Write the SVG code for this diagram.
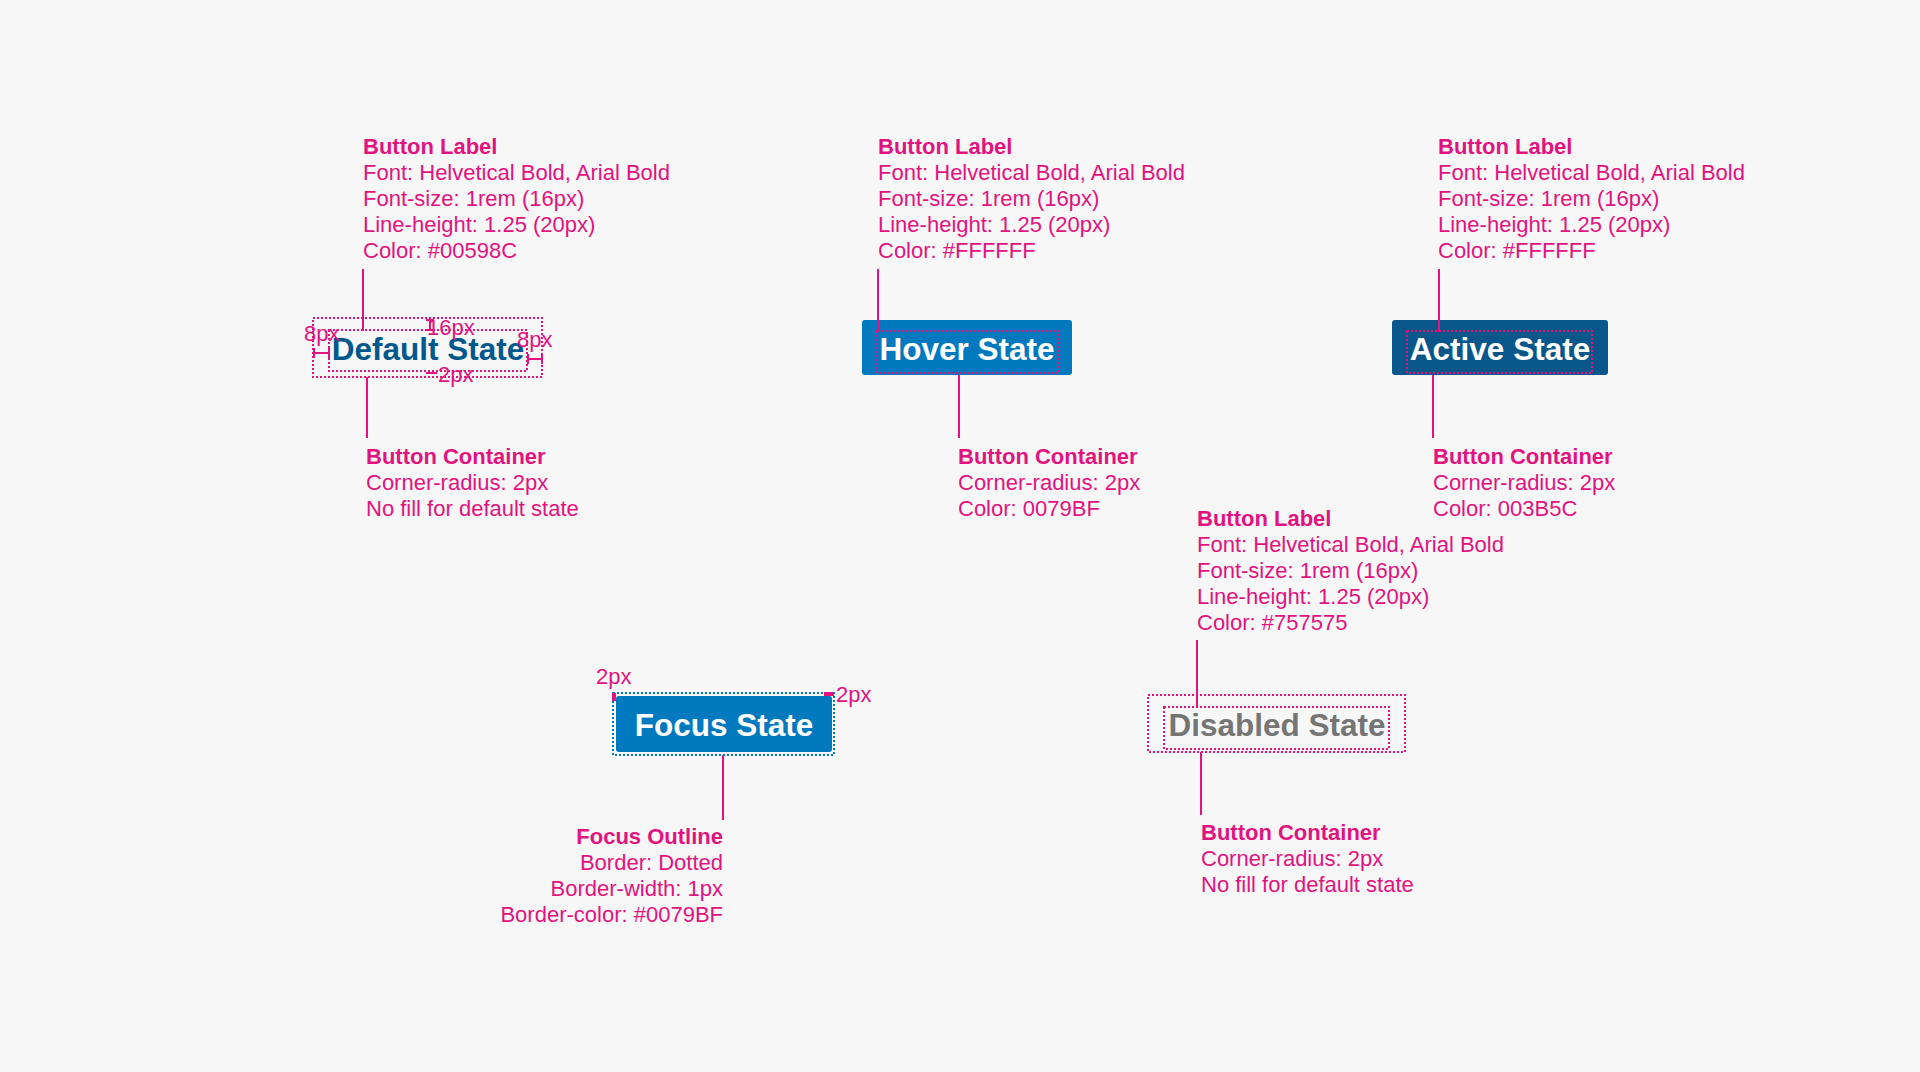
<svg xmlns="http://www.w3.org/2000/svg" width="1920" height="1072" viewBox="0 0 1920 1072">
<style>
.t{font-family:"Liberation Sans",Arial,Helvetica,sans-serif;font-size:22px;fill:#E2137F}
.b{font-weight:bold}
.btn{font-family:"Liberation Sans",Arial,Helvetica,sans-serif;font-size:31.5px;font-weight:bold;text-anchor:middle}
.dot{fill:none;stroke:#E2137F;stroke-width:2;stroke-dasharray:2 2}
.ln{stroke:#E2137F;stroke-width:2;fill:none}
.r{text-anchor:end}
</style>
<rect width="1920" height="1072" fill="#F7F7F7"/>

<g id="default-state">
<rect class="dot" x="313" y="318" width="229" height="59"/>
<rect class="dot" x="329" y="330" width="198" height="41"/>
<text class="btn" x="428" y="360" fill="#00598C">Default State</text>
<text class="t" x="304" y="341">8px</text>
<path class="ln" d="M314 353H329M314 348V358M329 348V358"/>
<text class="t" x="427" y="335">16px</text>
<path class="ln" d="M430 320V330M426 320H434M426 330H434"/>
<text class="t" x="517" y="347">8px</text>
<path class="ln" d="M528 359H542M528 354V364M542 354V364"/>
<path class="ln" d="M426 373H437" stroke-width="3"/>
<text class="t" x="438" y="382">2px</text>
</g>

<g id="hover-state">
<rect x="862" y="320" width="210" height="55" rx="3" fill="#0079BF"/>
<rect class="dot" x="877" y="331" width="181" height="42"/>
<text class="btn" x="967" y="360" fill="#FFFFFF">Hover State</text>
</g>

<g id="active-state">
<rect x="1392" y="320" width="216" height="55" rx="3" fill="#08568A"/>
<rect class="dot" x="1407" y="331" width="185" height="42"/>
<text class="btn" x="1500" y="360" fill="#FFFFFF">Active State</text>
</g>

<g id="focus-state">
<rect x="613" y="693" width="221" height="62" fill="none" stroke="#0079BF" stroke-width="2" stroke-dasharray="2 2"/>
<rect x="616" y="696" width="216" height="56" rx="3" fill="#0079BF"/>
<text class="btn" x="724" y="736" fill="#FFFFFF">Focus State</text>
<rect x="612" y="693" width="4" height="8" fill="#E2137F"/>
<rect x="824" y="692" width="10" height="4" fill="#E2137F"/>
<text class="t" x="596" y="684">2px</text>
<text class="t" x="836" y="702">2px</text>
</g>

<g id="disabled-state">
<rect class="dot" x="1148" y="695" width="257" height="57"/>
<rect class="dot" x="1164" y="707" width="225" height="42"/>
<text class="btn" x="1277" y="736" fill="#757575">Disabled State</text>
</g>

<g id="default-label-note">
<text class="t b" x="363" y="154">Button Label</text>
<text class="t" x="363" y="180">Font: Helvetical Bold, Arial Bold</text>
<text class="t" x="363" y="206">Font-size: 1rem (16px)</text>
<text class="t" x="363" y="232">Line-height: 1.25 (20px)</text>
<text class="t" x="363" y="258">Color: #00598C</text>
</g>
<g id="default-container-note">
<text class="t b" x="366" y="464">Button Container</text>
<text class="t" x="366" y="490">Corner-radius: 2px</text>
<text class="t" x="366" y="516">No fill for default state</text>
</g>

<g id="hover-label-note">
<text class="t b" x="878" y="154">Button Label</text>
<text class="t" x="878" y="180">Font: Helvetical Bold, Arial Bold</text>
<text class="t" x="878" y="206">Font-size: 1rem (16px)</text>
<text class="t" x="878" y="232">Line-height: 1.25 (20px)</text>
<text class="t" x="878" y="258">Color: #FFFFFF</text>
</g>
<g id="hover-container-note">
<text class="t b" x="958" y="464">Button Container</text>
<text class="t" x="958" y="490">Corner-radius: 2px</text>
<text class="t" x="958" y="516">Color: 0079BF</text>
</g>

<g id="active-label-note">
<text class="t b" x="1438" y="154">Button Label</text>
<text class="t" x="1438" y="180">Font: Helvetical Bold, Arial Bold</text>
<text class="t" x="1438" y="206">Font-size: 1rem (16px)</text>
<text class="t" x="1438" y="232">Line-height: 1.25 (20px)</text>
<text class="t" x="1438" y="258">Color: #FFFFFF</text>
</g>
<g id="active-container-note">
<text class="t b" x="1433" y="464">Button Container</text>
<text class="t" x="1433" y="490">Corner-radius: 2px</text>
<text class="t" x="1433" y="516">Color: 003B5C</text>
</g>

<g id="focus-outline-note">
<text class="t b r" x="723" y="844">Focus Outline</text>
<text class="t r" x="723" y="870">Border: Dotted</text>
<text class="t r" x="723" y="896">Border-width: 1px</text>
<text class="t r" x="723" y="922">Border-color: #0079BF</text>
</g>

<g id="disabled-label-note">
<text class="t b" x="1197" y="526">Button Label</text>
<text class="t" x="1197" y="552">Font: Helvetical Bold, Arial Bold</text>
<text class="t" x="1197" y="578">Font-size: 1rem (16px)</text>
<text class="t" x="1197" y="604">Line-height: 1.25 (20px)</text>
<text class="t" x="1197" y="630">Color: #757575</text>
</g>
<g id="disabled-container-note">
<text class="t b" x="1201" y="840">Button Container</text>
<text class="t" x="1201" y="866">Corner-radius: 2px</text>
<text class="t" x="1201" y="892">No fill for default state</text>
</g>

<g id="connectors">
<path class="ln" d="M363 269V331"/>
<path class="ln" d="M367 377V438"/>
<path class="ln" d="M878 269V332"/>
<path class="ln" d="M959 375V438"/>
<path class="ln" d="M1439 269V332"/>
<path class="ln" d="M1433 375V438"/>
<path class="ln" d="M723 755V820"/>
<path class="ln" d="M1197 640V708"/>
<path class="ln" d="M1201 752V815"/>
</g>
</svg>
